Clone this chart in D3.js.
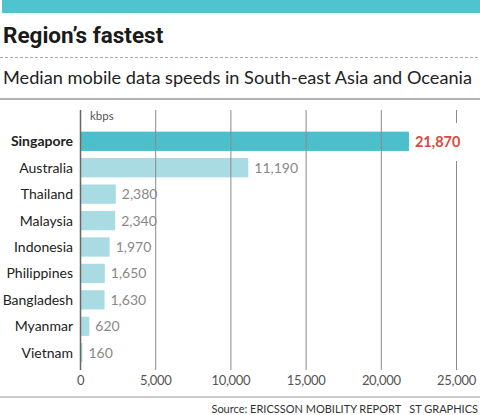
<!DOCTYPE html>
<html>
<head>
<meta charset="utf-8">
<script src="https://cdn.jsdelivr.net/npm/d3@7"></script>
<style>
  body { margin: 0; background: #fff; }
  svg { display: block; }
</style>
</head>
<body>
<div id="chart"></div>
<script>
const countries = ['Singapore', 'Australia', 'Thailand', 'Malaysia', 'Indonesia', 'Philippines', 'Bangladesh', 'Myanmar', 'Vietnam'];
const speeds = [21870, 11190, 2380, 2340, 1970, 1650, 1630, 620, 160];
const ticks = [0, 5000, 10000, 15000, 20000, 25000];

const size = { width: 480, height: 415 };
const margin = { top: 129, right: 24, bottom: 45, left: 80 };

const svg = d3.select('#chart')
  .append('svg')
  .attr('width', size.width)
  .attr('height', size.height);

// header
svg.append('rect')
  .attr('x', 2).attr('y', 0)
  .attr('width', size.width - 2).attr('height', 13)
  .attr('fill', '#4fc4cf');

svg.append('text')
  .text('Region\u2019s fastest')
  .attr('x', 3).attr('y', 43)
  .attr('font-family', 'Roboto')
  .attr('font-weight', 'bold')
  .attr('font-size', '22.5px')
  .attr('fill', '#1a1a1a');

svg.append('line')
  .attr('x1', 0).attr('x2', size.width)
  .attr('y1', 57.5).attr('y2', 57.5)
  .attr('stroke', '#aaa')
  .attr('stroke-dasharray', '3,2');

svg.append('text')
  .text('Median mobile data speeds in South-east Asia and Oceania')
  .attr('x', 3).attr('y', 84)
  .attr('font-family', 'Lato')
  .attr('font-size', '18px')
  .attr('textLength', 469)
  .attr('lengthAdjust', 'spacingAndGlyphs')
  .attr('fill', '#222');

svg.append('line')
  .attr('x1', 0).attr('x2', size.width)
  .attr('y1', 99).attr('y2', 99)
  .attr('stroke', '#999')
  .attr('stroke-width', 1.5);

const x = d3.scaleLinear()
  .domain([0, 25000])
  .range([margin.left, 456]);

const y = d3.scaleBand()
  .domain(countries)
  .range([margin.top, 365])
  .paddingInner(0.27)
  .paddingOuter(0.1);

const data = countries.map((c, i) => ({ country: c, val: speeds[i] }));

// bars
svg.selectAll('rect.bar')
  .data(data)
  .join('rect')
  .attr('class', 'bar')
  .attr('x', x(0))
  .attr('y', (d) => y(d.country))
  .attr('width', (d) => x(d.val) - x(0))
  .attr('height', y.bandwidth())
  .attr('fill', (d, i) => (i === 0 ? '#4bbfcc' : '#a9dce2'));

// gridlines over bars
svg.append('g')
  .selectAll('line')
  .data(ticks)
  .join('line')
  .attr('x1', (d) => x(d) + 0.5)
  .attr('x2', (d) => x(d) + 0.5)
  .attr('y1', 110)
  .attr('y2', 370)
  .attr('stroke', (d) => (d === 0 ? '#666' : '#8a8a8a'))
  .attr('stroke-width', (d) => (d === 0 ? 1.5 : 1));

// axis labels
svg.append('g')
  .attr('transform', 'translate(0, 373)')
  .call(d3.axisBottom(x).tickValues(ticks).tickSize(0).tickFormat(d3.format(',')))
  .call((g) => g.select('.domain').remove())
  .call((g) => g.selectAll('text')
    .attr('font-family', 'Lato')
    .attr('font-size', '13px')
    .attr('letter-spacing', '-0.3px')
    .attr('fill', '#555'));

svg.append('text')
  .text('kbps')
  .attr('x', 90).attr('y', 120)
  .attr('font-family', 'Lato')
  .attr('font-size', '11.5px')
  .attr('fill', '#555');

// country names
svg.selectAll('text.country')
  .data(data)
  .join('text')
  .attr('class', 'country')
  .text((d) => d.country)
  .attr('x', 73)
  .attr('y', (d) => y(d.country) + y.bandwidth() / 2)
  .attr('dy', '0.36em')
  .attr('text-anchor', 'end')
  .attr('font-family', 'Lato')
  .attr('font-size', '14px')
  .attr('font-weight', (d, i) => (i === 0 ? 'bold' : 'normal'))
  .attr('fill', '#222');

// white patch behind top value
svg.append('rect')
  .attr('x', x(speeds[0]) + 3)
  .attr('y', 123)
  .attr('width', 60)
  .attr('height', 38)
  .attr('fill', '#fff');

// values
svg.selectAll('text.value')
  .data(data)
  .join('text')
  .attr('class', 'value')
  .text((d) => d3.format(',')(d.val))
  .attr('x', (d) => x(d.val) + 6)
  .attr('y', (d) => y(d.country) + y.bandwidth() / 2)
  .attr('dy', '0.36em')
  .attr('font-family', 'Lato')
  .attr('font-size', (d, i) => (i === 0 ? '14.5px' : '14px'))
  .attr('font-weight', (d, i) => (i === 0 ? 'bold' : 'normal'))
  .attr('fill', (d, i) => (i === 0 ? '#e0473b' : '#888'));

// footer
svg.append('line')
  .attr('x1', 0).attr('x2', size.width)
  .attr('y1', 397).attr('y2', 397)
  .attr('stroke', '#999')
  .attr('stroke-width', 1);

svg.append('text')
  .text('Source: ERICSSON MOBILITY REPORT   ST GRAPHICS')
  .attr('x', 478).attr('y', 413)
  .attr('text-anchor', 'end')
  .style('white-space', 'pre')
  .attr('font-family', 'Lato')
  .attr('font-size', '11px')
  .attr('fill', '#333');
</script>
</body>
</html>
